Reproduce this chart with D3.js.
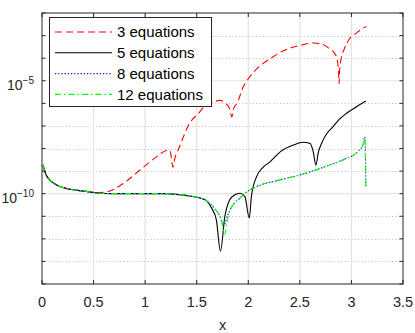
<!DOCTYPE html>
<html>
<head>
<meta charset="utf-8">
<script src="https://cdn.jsdelivr.net/npm/d3@7"></script>
<style>
  body { margin: 0; background: #fff; }
  svg { display: block; font-family: "Liberation Sans", Arial, sans-serif; }
</style>
</head>
<body>
<div id="graph"></div>
<script>
// x positions and log10 of the error for each series
var x3 = [0.01, 0.04, 0.14, 0.23, 0.43, 0.52, 0.63, 0.79, 0.95, 1.11, 1.2, 1.24, 1.27, 1.29, 1.32, 1.43, 1.53, 1.58, 1.65, 1.72, 1.78, 1.82, 1.84, 1.86, 1.89, 1.95, 2.0, 2.1, 2.21, 2.34, 2.5, 2.63, 2.7, 2.77, 2.84, 2.86, 2.875, 2.88, 2.885, 2.9, 2.93, 2.98, 3.05, 3.11, 3.145];
var err3 = [-8.73, -9.17, -9.61, -9.76, -9.9, -9.96, -9.92, -9.54, -8.95, -8.37, -8.1, -8.08, -8.83, -8.4, -8.07, -6.89, -6.38, -6.09, -5.95, -5.87, -6.0, -6.25, -6.6, -6.2, -6.01, -5.28, -4.91, -4.4, -4.03, -3.67, -3.44, -3.33, -3.36, -3.52, -3.81, -4.03, -4.6, -5.13, -4.6, -4.03, -3.6, -3.15, -2.88, -2.68, -2.6];

var x5 = [0.01, 0.04, 0.14, 0.23, 0.43, 0.52, 0.7, 1.0, 1.2, 1.3, 1.43, 1.58, 1.644, 1.69, 1.73, 1.773, 1.82, 1.87, 1.92, 1.967, 2.01, 2.03, 2.08, 2.14, 2.21, 2.31, 2.435, 2.53, 2.6, 2.63, 2.655, 2.68, 2.71, 2.76, 2.82, 2.88, 2.95, 3.05, 3.14];
var err5 = [-8.73, -9.17, -9.61, -9.76, -9.9, -9.96, -10.0, -10.0, -10.0, -10.03, -10.1, -10.27, -10.64, -11.15, -12.55, -11.0, -10.27, -10.05, -9.98, -10.13, -11.08, -10.13, -9.25, -8.85, -8.59, -8.15, -7.85, -7.72, -7.78, -8.15, -8.73, -8.15, -7.78, -7.35, -7.04, -6.72, -6.45, -6.15, -5.9];

var x8 = [0.01, 0.04, 0.14, 0.23, 0.43, 0.52, 0.7, 1.0, 1.2, 1.3, 1.43, 1.58, 1.644, 1.68, 1.73, 1.76, 1.8, 1.85, 1.92, 1.97, 2.08, 2.31, 2.5, 2.79, 2.95, 3.06, 3.11, 3.13, 3.14];
var err8 = [-8.73, -9.17, -9.61, -9.76, -9.9, -9.96, -10.0, -10.0, -10.0, -10.03, -10.1, -10.27, -10.5, -10.7, -11.05, -11.45, -10.95, -10.5, -10.2, -9.98, -9.69, -9.39, -9.17, -8.73, -8.44, -8.15, -7.85, -7.48, -9.69];

var x12 = [0.01, 0.04, 0.14, 0.23, 0.43, 0.52, 0.7, 1.0, 1.2, 1.3, 1.43, 1.58, 1.644, 1.68, 1.74, 1.77, 1.805, 1.85, 1.92, 1.97, 2.08, 2.31, 2.5, 2.79, 2.95, 3.06, 3.11, 3.13, 3.14];
var err12 = [-8.73, -9.17, -9.61, -9.76, -9.9, -9.96, -10.0, -10.0, -10.0, -10.03, -10.1, -10.27, -10.5, -10.7, -11.15, -11.8, -11.0, -10.5, -10.2, -9.98, -9.69, -9.39, -9.17, -8.73, -8.44, -8.15, -7.85, -7.48, -9.69];

var seriesNames = ["3 equations", "5 equations", "8 equations", "12 equations"];
var xTicks = [0, 0.5, 1, 1.5, 2, 2.5, 3, 3.5];
var yMajor = [-10, -5];

// set the dimensions and margins of the graph
var margin = {top: 13, right: 12, bottom: 49, left: 42};
var width = 415 - margin.left - margin.right;
var height = 333 - margin.top - margin.bottom;
var axisColor = "#262626";

var graphX = d3.scaleLinear().domain([0, 3.5]).range([0, width]);
var graphY = d3.scaleLog().domain([1e-14, 1e-2]).range([height, 0]);

var svg = d3.select("#graph")
  .append("svg")
  .attr("width", 415)
  .attr("height", 333)
  .append("g")
  .attr("transform", "translate(" + margin.left + "," + margin.top + ")");

// decades for minor grid / ticks
var decades = d3.range(-14, -1);

// minor dotted grid
svg.append("g")
  .selectAll("line")
  .data(decades.filter(function(d) { return yMajor.indexOf(d) < 0 && d > -14 && d < -2; }))
  .enter()
  .append("line")
  .attr("x1", 0)
  .attr("x2", width)
  .attr("y1", function(d) { return Math.round(graphY(Math.pow(10, d))) + 0.5; })
  .attr("y2", function(d) { return Math.round(graphY(Math.pow(10, d))) + 0.5; })
  .style("stroke", "#b8b8b8")
  .style("stroke-dasharray", "1,2.4");

// major solid grid
svg.append("g")
  .selectAll("line")
  .data(xTicks.slice(1, -1))
  .enter()
  .append("line")
  .attr("x1", function(d) { return graphX(d); })
  .attr("x2", function(d) { return graphX(d); })
  .attr("y1", 0)
  .attr("y2", height)
  .style("stroke", "#e3e3e3")
  .style("stroke-width", 1.2);

svg.append("g")
  .selectAll("line")
  .data(yMajor)
  .enter()
  .append("line")
  .attr("x1", 0)
  .attr("x2", width)
  .attr("y1", function(d) { return graphY(Math.pow(10, d)); })
  .attr("y2", function(d) { return graphY(Math.pow(10, d)); })
  .style("stroke", "#e3e3e3")
  .style("stroke-width", 1.2);

// the four curves
var series = [
  {xs: x3, ys: err3, color: "#ff0000", dash: "7,4"},
  {xs: x5, ys: err5, color: "#000000", dash: null},
  {xs: x8, ys: err8, color: "#0000ff", dash: "1.2,2"},
  {xs: x12, ys: err12, color: "#00ff00", dash: "6,3,1.5,3"}
];

var line = d3.line()
  .x(function(d) { return graphX(d[0]); })
  .y(function(d) { return graphY(Math.pow(10, d[1])); })
  .curve(d3.curveMonotoneX);

series.forEach(function(s) {
  svg.append("path")
    .datum(d3.zip(s.xs, s.ys))
    .attr("d", line)
    .style("fill", "none")
    .style("stroke", s.color)
    .style("stroke-width", 1.1)
    .style("stroke-dasharray", s.dash);
});

// axes box
svg.append("rect")
  .attr("x", 0)
  .attr("y", 0)
  .attr("width", width)
  .attr("height", height)
  .style("fill", "none")
  .style("stroke", axisColor)
  .style("stroke-width", 1);

// x ticks top and bottom, inward
xTicks.forEach(function(t) {
  var px = graphX(t);
  svg.append("line").attr("x1", px).attr("x2", px).attr("y1", height).attr("y2", height - 4)
    .style("stroke", axisColor);
  svg.append("line").attr("x1", px).attr("x2", px).attr("y1", 0).attr("y2", 4)
    .style("stroke", axisColor);
  svg.append("text")
    .attr("x", px)
    .attr("y", height + 23)
    .attr("text-anchor", "middle")
    .style("font-size", "14.5px")
    .style("fill", axisColor)
    .text(t);
});

// y ticks on both sides at every decade
decades.forEach(function(d) {
  var py = graphY(Math.pow(10, d));
  svg.append("line").attr("x1", 0).attr("x2", 3.5).attr("y1", py).attr("y2", py)
    .style("stroke", axisColor);
  svg.append("line").attr("x1", width).attr("x2", width - 3.5).attr("y1", py).attr("y2", py)
    .style("stroke", axisColor);
});

// y tick labels 10^n
yMajor.forEach(function(d) {
  var py = graphY(Math.pow(10, d));
  var label = svg.append("text")
    .attr("x", -8)
    .attr("y", py + 9.5)
    .attr("text-anchor", "end")
    .style("fill", axisColor)
    .style("font-size", "14px");
  label.append("tspan").text("10");
  label.append("tspan")
    .attr("dy", -6)
    .style("font-size", "10px")
    .text("\u2212" + Math.abs(d));
});

// x label
svg.append("text")
  .attr("x", width / 2)
  .attr("y", height + 46)
  .attr("text-anchor", "middle")
  .style("font-size", "14.5px")
  .style("fill", axisColor)
  .text("x");

// legend
var legend = svg.append("g")
  .attr("transform", "translate(" + (49 - margin.left) + "," + (17 - margin.top) + ")");

legend.append("rect")
  .attr("x", 0.5)
  .attr("y", 0.5)
  .attr("width", 162)
  .attr("height", 89)
  .style("fill", "#fff")
  .style("stroke", axisColor)
  .style("stroke-width", 1);

seriesNames.forEach(function(name, i) {
  var cy = 15 + i * 20.8;
  legend.append("line")
    .attr("x1", 6)
    .attr("x2", 63)
    .attr("y1", cy)
    .attr("y2", cy)
    .style("stroke", series[i].color)
    .style("stroke-width", 1.1)
    .style("stroke-dasharray", series[i].dash);
  legend.append("text")
    .attr("x", 68)
    .attr("y", cy + 5.4)
    .style("font-size", "15px")
    .style("fill", "#000")
    .text(name);
});
</script>
</body>
</html>
